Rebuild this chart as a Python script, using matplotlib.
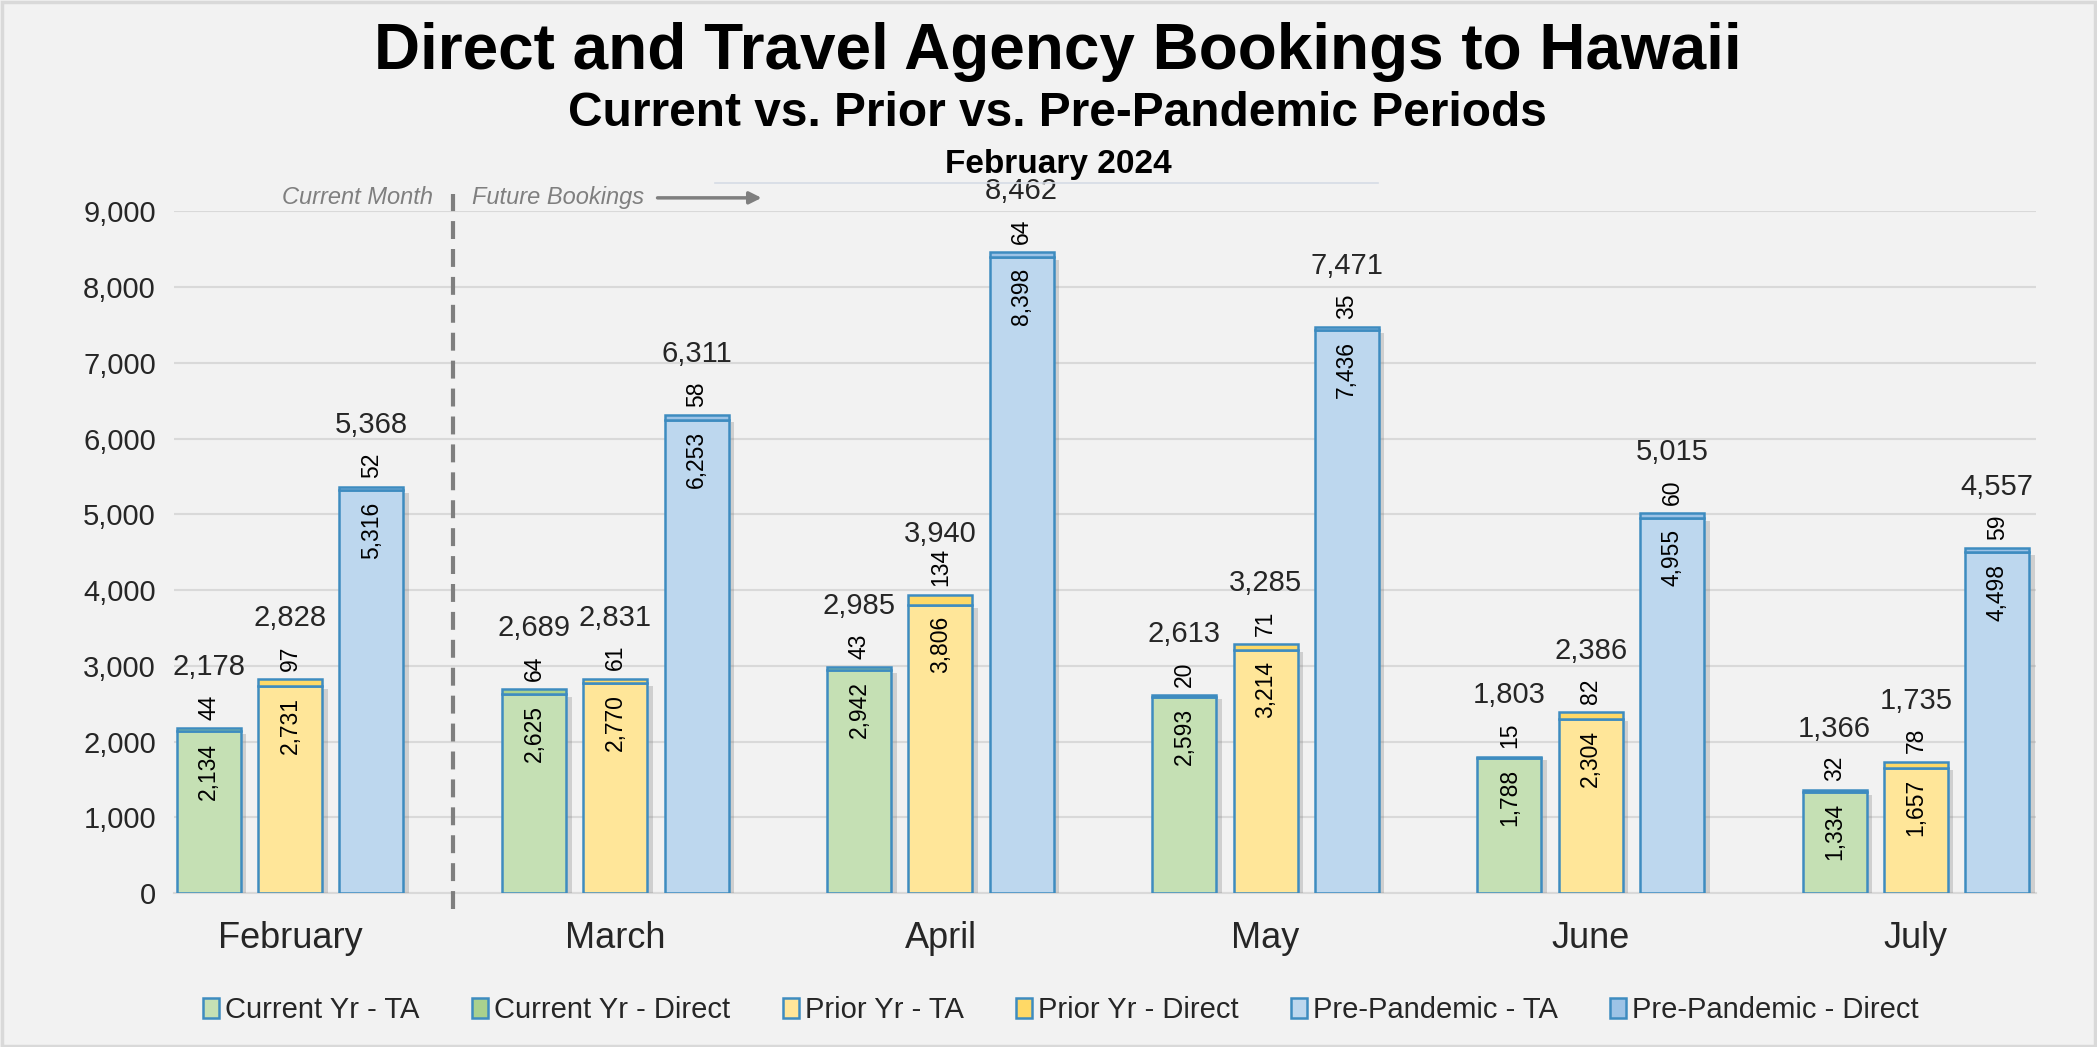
import numpy as np
import matplotlib.pyplot as plt
import matplotlib.patheffects as pe
from matplotlib.patches import Patch, Rectangle
from matplotlib.lines import Line2D
from matplotlib.ticker import FuncFormatter

plt.rcParams['font.family'] = ['Liberation Sans', 'DejaVu Sans']

# data
months = ['February', 'March', 'April', 'May', 'June', 'July']
cur_ta = [2134, 2625, 2942, 2593, 1788, 1334]
cur_direct = [44, 64, 43, 20, 15, 32]
prior_ta = [2731, 2770, 3806, 3214, 2304, 1657]
prior_direct = [97, 61, 134, 71, 82, 78]
pre_ta = [5316, 6253, 8398, 7436, 4955, 4498]
pre_direct = [52, 58, 64, 35, 60, 59]

legend_labels = ['Current Yr - TA', 'Current Yr - Direct', 'Prior Yr - TA',
                 'Prior Yr - Direct', 'Pre-Pandemic - TA', 'Pre-Pandemic - Direct']

edge = '#3E8CC0'
bg = '#F2F2F2'
groups = [
    (cur_ta, cur_direct, '#C5E0B4', '#A9D18E', -0.25),
    (prior_ta, prior_direct, '#FFE699', '#FFD966', 0.0),
    (pre_ta, pre_direct, '#BDD7EE', '#9DC3E6', 0.25),
]

fig = plt.figure(figsize=(20.97, 10.47), dpi=100, facecolor=bg)
ax = fig.add_axes([0.083, 0.147, 0.888, 0.651])
ax.set_facecolor(bg)

x = np.arange(len(months))
w = 0.197
shadow = [pe.SimplePatchShadow(offset=(4, -2), shadow_rgbFace='#7f7f7f', alpha=0.3), pe.Normal()]

for bottom_vals, top_vals, c1, c2, off in groups:
    xs = x + off
    b1 = ax.bar(xs, bottom_vals, w, color=c1, edgecolor=edge, linewidth=1.8, zorder=3)
    b2 = ax.bar(xs, top_vals, w, bottom=bottom_vals, color=c2, edgecolor=edge, linewidth=1.8, zorder=3)
    for r in b1:
        r.set_path_effects(shadow)
    for xi, bv, tv in zip(xs, bottom_vals, top_vals):
        tot = bv + tv
        ax.annotate(f'{bv:,}', (xi, bv), xytext=(0, -8), textcoords='offset points',
                    rotation=90, ha='center', va='top', fontsize=16.5, color='#000000', zorder=5)
        ax.annotate(f'{tv:,}', (xi, tot), xytext=(0, 6), textcoords='offset points',
                    rotation=90, ha='center', va='bottom', fontsize=16.5, color='#000000', zorder=5)
        ax.annotate(f'{tot:,}', (xi, tot), xytext=(0, 44), textcoords='offset points',
                    ha='center', va='center', fontsize=21, color='#262626', zorder=5,
                    annotation_clip=False)

ax.set_ylim(0, 9000)
ax.set_xlim(-0.357, 5.37)
ax.set_yticks(np.arange(0, 9001, 1000))
ax.yaxis.set_major_formatter(FuncFormatter(lambda v, p: f'{int(v):,}'))
ax.set_xticks(x)
ax.set_xticklabels(months)
ax.tick_params(axis='y', length=0, labelsize=21, pad=13, labelcolor='#262626')
ax.tick_params(axis='x', length=0, labelsize=26, pad=20, labelcolor='#262626')
ax.grid(axis='y', color='#D9D9D9', linewidth=1.5, zorder=0)
for s in ['left', 'right', 'top']:
    ax.spines[s].set_visible(False)
ax.spines['bottom'].set_color('#D9D9D9')
ax.spines['bottom'].set_linewidth(1.5)

# current month divider
xt = ax.get_xaxis_transform()
ax.plot([0.5, 0.5], [-0.023, 1.025], transform=xt, color='#7F7F7F',
        linewidth=3, dashes=(4.3, 2.4), clip_on=False, zorder=4)
ax.text(0.44, 1.02, 'Current Month', transform=xt, ha='right', va='center',
        fontsize=17, style='italic', color='#7F7F7F')
ax.text(0.56, 1.02, 'Future Bookings', transform=xt, ha='left', va='center',
        fontsize=17, style='italic', color='#7F7F7F')
ax.annotate('', xy=(1.45, 1.02), xytext=(1.13, 1.02), xycoords=xt, textcoords=xt,
            arrowprops=dict(arrowstyle='-|>', color='#7F7F7F', lw=2.5, mutation_scale=18,
                            shrinkA=0, shrinkB=0))

# titles
fig.text(0.5045, 0.950, 'Direct and Travel Agency Bookings to Hawaii', ha='center', va='center',
         fontsize=46, fontweight='bold')
fig.text(0.5045, 0.892, 'Current vs. Prior vs. Pre-Pandemic Periods', ha='center', va='center',
         fontsize=34.5, fontweight='bold')
fig.text(0.5045, 0.843, 'February 2024', ha='center', va='center', fontsize=24, fontweight='bold')
fig.add_artist(Line2D([0.341, 0.657], [0.825, 0.825], color='#D6DCE5', linewidth=1.2))

# legend
fills = ['#C5E0B4', '#A9D18E', '#FFE699', '#FFD966', '#BDD7EE', '#9DC3E6']
handles = [Patch(facecolor=c, edgecolor=edge, linewidth=1.8) for c in fills]
fig.legend(handles, legend_labels, loc='center', bbox_to_anchor=(0.506, 0.035), ncol=6,
           frameon=False, fontsize=21, handlelength=0.55, handleheight=0.7,
           handletextpad=0.2, columnspacing=1.8, labelcolor='#262626')

fig.add_artist(Rectangle((0.001, 0.001), 0.998, 0.997, transform=fig.transFigure, fill=False,
                         edgecolor='#D9D9D9', linewidth=2.5))

fig.savefig('out.png', dpi=100, facecolor=bg)
